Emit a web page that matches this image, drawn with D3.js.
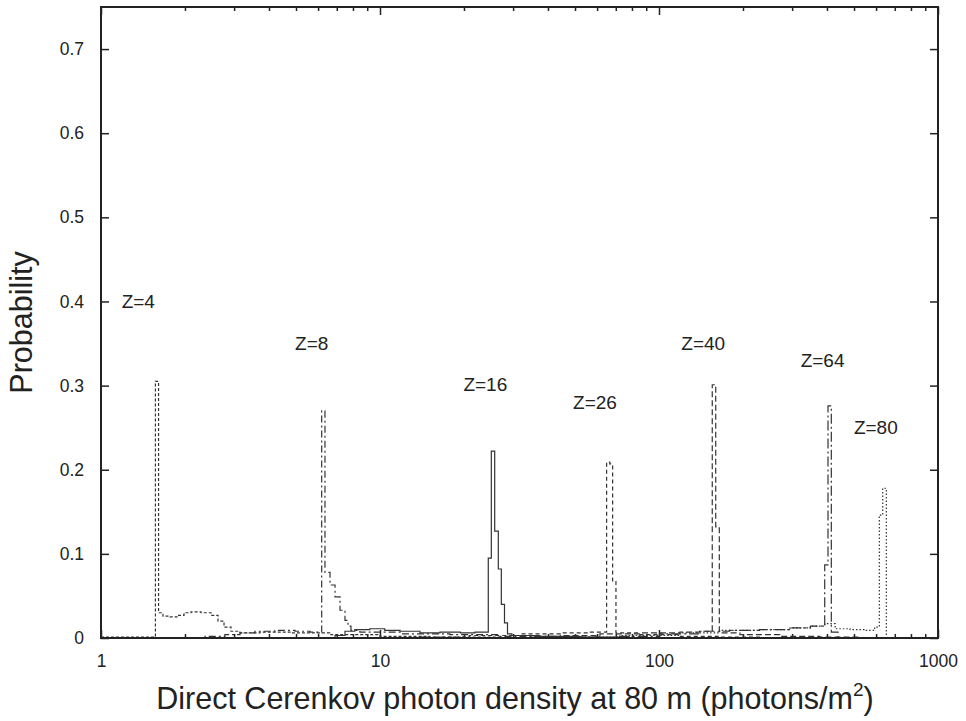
<!DOCTYPE html>
<html>
<head>
<meta charset="utf-8">
<script src="https://cdn.jsdelivr.net/npm/d3@7"></script>
<style>
  html, body { margin: 0; padding: 0; background: #fff; }
  svg { display: block; }
  text { font-family: "Liberation Sans", Arial, Helvetica, sans-serif; fill: #222; }
</style>
</head>
<body>
<svg id="chart" width="966" height="721"></svg>
<script>
// ---- Data: histogram step points [photon density, probability]; each step holds until the next point ----
const z4  = [[1.0,0.001],[1.567,0.305],[1.608,0.030],[1.668,0.026],[1.767,0.025],[1.873,0.027],[1.984,0.030],[2.102,0.031],[2.283,0.030],[2.48,0.027],[2.627,0.020],[2.76,0.013],[2.924,0.008],[3.149,0.006],[3.71,0.007],[4.76,0.006],[6.6,0.004],[10,0.002],[15,0.001],[26.9,0]];
const z8  = [[1.92,0.0005],[2.36,0.002],[2.78,0.004],[3.15,0.006],[3.56,0.008],[4.2,0.009],[4.96,0.008],[5.61,0.007],[6.18,0.270],[6.35,0.078],[6.62,0.063],[6.9,0.049],[7.19,0.033],[7.49,0.021],[7.68,0.014],[7.87,0.009],[8.47,0.007],[11.8,0.005],[17.8,0.004],[26.9,0.002],[44.3,0.001],[61.4,0]];
const z16 = [[5.17,0.0005],[6.9,0.003],[7.49,0.008],[8.12,0.010],[9.2,0.011],[10.4,0.009],[11.8,0.008],[13.9,0.006],[16.4,0.007],[19.4,0.006],[21.9,0.007],[24.44,0.095],[25.06,0.222],[25.77,0.127],[26.55,0.082],[27.22,0.040],[27.94,0.018],[28.64,0.005],[29.7,0.003],[37.4,0.002],[52,0.001],[72.3,0]];
const z26 = [[13.9,0.001],[20.9,0.003],[31.8,0.005],[44.3,0.006],[56.5,0.007],[64.9,0.209],[66.6,0.207],[68.2,0.068],[70.1,0.006],[85.3,0.004],[118,0.002],[165,0.001],[230,0]];
const z40 = [[31.8,0.001],[44.3,0.003],[61.4,0.005],[85.3,0.006],[118.7,0.007],[139.6,0.008],[155.2,0.301],[159.7,0.132],[164.5,0.006],[195,0.004],[271,0.002],[377,0.001],[527,0]];
const z64 = [[72.3,0.002],[100.4,0.005],[139.6,0.008],[179,0.009],[229,0.010],[295,0.012],[349,0.014],[392.6,0.087],[403.4,0.276],[414.6,0.007],[438,0]];
const z80 = [[44.3,0.001],[72.3,0.003],[118.7,0.006],[165,0.009],[229,0.010],[295,0.012],[349,0.014],[393,0.017],[428,0.011],[484,0.010],[546,0.009],[593,0.013],[616.2,0.146],[633.8,0.178],[652.8,0],[660,0]];

const seriesNames = ["Z=4","Z=8","Z=16","Z=26","Z=40","Z=64","Z=80"];
const seriesData  = [z4, z8, z16, z26, z40, z64, z80];
// label anchors in data units [photon density, probability]
const labelAnchors = [[1.186,0.392],[4.96,0.342],[19.9,0.294],[49.2,0.272],[120.2,0.342],[321.9,0.3226],[499.6,0.2426]];

const xTickValues = [1, 10, 100, 1000];
const xTickLabels = ["1", "10", "100", "1000"];
const yTickValues = [0, 0.1, 0.2, 0.3, 0.4, 0.5, 0.6, 0.7];
const yTickLabels = ["0", "0.1", "0.2", "0.3", "0.4", "0.5", "0.6", "0.7"];
const xTitle = "Direct Cerenkov photon density at 80 m (photons/m";
const xTitleSup = "2";
const yTitle = "Probability";

// ---- Styles ----
const dashes = ["3,2", "7,3,2,3", null, "4,3", "6,3", "10,3,2,3", "1.5,2"];

const svg = d3.select("#chart");
const L = 101, R = 938, T = 7, B = 638;
const x = d3.scaleLog().domain([1, 1000]).range([L, R]);
const y = d3.scaleLinear().domain([0, 0.75]).range([B, T]);

const minorX = [];
for (let d = 1; d < 1000; d *= 10) for (let k = 2; k <= 9; k++) minorX.push(d * k);

// Axes
function styleAxis(g) {
  g.select(".domain").remove();
  g.selectAll(".tick line").attr("stroke", "#222").attr("stroke-width", 1.5);
  g.selectAll(".tick text").attr("font-size", 17.5).attr("fill", "#222")
    .attr("font-family", '"Liberation Sans", Arial, sans-serif');
}
svg.append("g").attr("transform", `translate(0,${B})`)
  .call(d3.axisBottom(x).tickValues(xTickValues).tickSize(-8).tickPadding(17)
    .tickFormat((d, i) => xTickLabels[i]))
  .call(styleAxis);
svg.append("g").attr("transform", `translate(0,${B})`)
  .call(d3.axisBottom(x).tickValues(minorX).tickSize(-4).tickFormat(""))
  .call(styleAxis);
svg.append("g").attr("transform", `translate(0,${T})`)
  .call(d3.axisTop(x).tickValues(xTickValues).tickSize(-8).tickFormat(""))
  .call(styleAxis);
svg.append("g").attr("transform", `translate(0,${T})`)
  .call(d3.axisTop(x).tickValues(minorX).tickSize(-4).tickFormat(""))
  .call(styleAxis);
svg.append("g").attr("transform", `translate(${L},0)`)
  .call(d3.axisLeft(y).tickValues(yTickValues).tickSize(-8).tickPadding(17)
    .tickFormat((d, i) => yTickLabels[i]))
  .call(styleAxis);
svg.append("g").attr("transform", `translate(${R},0)`)
  .call(d3.axisRight(y).tickValues(yTickValues).tickSize(-8).tickFormat(""))
  .call(styleAxis);

// Series
const line = d3.line().x(d => x(d[0])).y(d => y(d[1])).curve(d3.curveStepAfter);
seriesData.forEach((s, i) => {
  svg.append("path")
    .attr("d", line(s))
    .attr("fill", "none")
    .attr("stroke", "#333")
    .attr("stroke-width", 1.2)
    .attr("stroke-dasharray", dashes[i]);
});

// Frame
svg.append("rect").attr("x", L).attr("y", T).attr("width", R - L).attr("height", B - T)
  .attr("fill", "none").attr("stroke", "#222").attr("stroke-width", 2);

// Labels
seriesNames.forEach((n, i) => {
  svg.append("text").attr("x", x(labelAnchors[i][0])).attr("y", y(labelAnchors[i][1]))
    .attr("font-size", 19).text(n);
});

// Titles
const xt = svg.append("text").attr("x", 515).attr("y", 709)
  .attr("text-anchor", "middle").attr("font-size", 30.5);
xt.append("tspan").text(xTitle);
xt.append("tspan").attr("dy", -13).attr("font-size", 19).text(xTitleSup);
xt.append("tspan").attr("dy", 13).text(")");

svg.append("text").attr("transform", `translate(32,${(T + B) / 2}) rotate(-90)`)
  .attr("text-anchor", "middle").attr("font-size", 30.5).text(yTitle);
</script>
</body>
</html>
